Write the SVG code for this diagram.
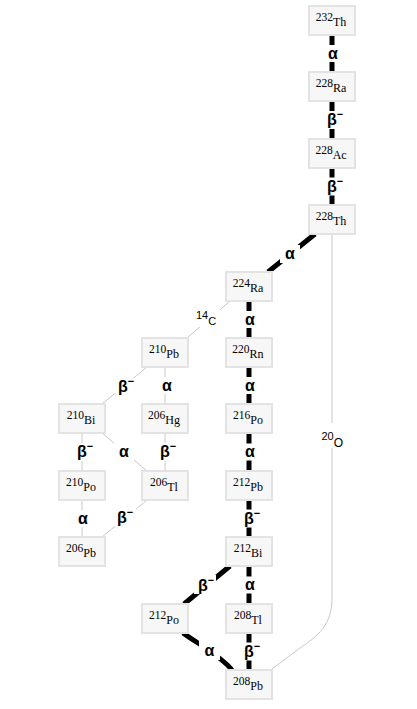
<svg xmlns="http://www.w3.org/2000/svg" width="417" height="709" viewBox="0 0 417 709">
<style>
.n rect{fill:#f7f7f7;stroke:#e3e3e3;stroke-width:2}
.n text{font-family:"Liberation Serif","Times New Roman",serif;font-size:11.5px;fill:#000}
.thick{stroke:#000;stroke-width:5;fill:none}
.thin{stroke:#c8c8c8;stroke-width:1;fill:none}
.lbl{font-family:"Liberation Sans",Arial,sans-serif;font-size:16px;font-weight:bold;fill:#000}
.iso{font-family:"Liberation Sans",Arial,sans-serif;font-size:11px;fill:#000}
.bg{fill:#fff}
</style>
<rect width="417" height="709" fill="#fff"/>
<g id="edges">
<path class="thin" d="M332,234 V598 C332,625 318,636 300,648 L272,669"/>
<path class="thin" d="M230,301 L187,338"/>
<path class="thin" d="M147,367 L102,404"/>
<path class="thin" d="M165,367 V404"/>
<path class="thin" d="M82,433 V471"/>
<path class="thin" d="M102,433 L147,471"/>
<path class="thin" d="M165,433 V471"/>
<path class="thin" d="M82,500 V537"/>
<path class="thin" d="M147,500 L102,537"/>
<path class="thick" d="M332,35 V72 M332,101 V139 M332,168 V205"/>
<path class="thick" d="M249,301 V338 M249,367 V404 M249,433 V471 M249,500 V537 M249,566 V604 M249,633 V670"/>
<path class="thick" d="M315,234 L268,272"/>
<path class="thick" d="M230,566 L184,604"/>
<path class="thick" d="M183,633 C195,642 220,655 232,670"/>
<g id="labels">
<rect class="bg" x="322" y="45" width="20" height="17"/><text class="lbl" x="333" y="58.5" text-anchor="middle">α</text>
<rect class="bg" x="324" y="111" width="22" height="18"/><text class="lbl" x="327" y="125">β<tspan dy="-7" font-size="11">−</tspan></text>
<rect class="bg" x="324" y="177.5" width="22" height="18"/><text class="lbl" x="327" y="191.5">β<tspan dy="-7" font-size="11">−</tspan></text>
<rect class="bg" x="280" y="245" width="20" height="18"/><text class="lbl" x="290" y="259" text-anchor="middle">α</text>
<rect class="bg" x="195" y="309" width="25" height="18"/><text class="iso" x="196" y="318.5" font-size="10">14<tspan dy="6.5" font-size="11">C</tspan></text>
<rect class="bg" x="320" y="423" width="26" height="25"/><text class="iso" x="321.5" y="439.5">20<tspan dy="7" font-size="12">O</tspan></text>
<rect class="bg" x="239" y="311" width="21" height="17"/><text class="lbl" x="250" y="324.5" text-anchor="middle">α</text>
<rect class="bg" x="239" y="377" width="21" height="17"/><text class="lbl" x="250" y="390.5" text-anchor="middle">α</text>
<rect class="bg" x="239" y="443.5" width="21" height="17"/><text class="lbl" x="250" y="457" text-anchor="middle">α</text>
<rect class="bg" x="241" y="509.5" width="22" height="18"/><text class="lbl" x="244" y="523.5">β<tspan dy="-7" font-size="11">−</tspan></text>
<rect class="bg" x="239" y="576.5" width="21" height="17"/><text class="lbl" x="250" y="590" text-anchor="middle">α</text>
<rect class="bg" x="241" y="642.5" width="22" height="18"/><text class="lbl" x="244" y="656.5">β<tspan dy="-7" font-size="11">−</tspan></text>
<rect class="bg" x="194" y="575" width="22" height="19"/><text class="lbl" x="198" y="590.5">β<tspan dy="-7" font-size="11">−</tspan></text>
<rect class="bg" x="199" y="641" width="21" height="19"/><text class="lbl" x="209.5" y="655.5" text-anchor="middle">α</text>
<rect class="bg" x="115" y="378" width="22" height="18"/><text class="lbl" x="118" y="392">β<tspan dy="-7" font-size="11">−</tspan></text>
<rect class="bg" x="156" y="377" width="21" height="17"/><text class="lbl" x="167" y="390.5" text-anchor="middle">α</text>
<rect class="bg" x="74" y="443" width="22" height="18"/><text class="lbl" x="77" y="457">β<tspan dy="-7" font-size="11">−</tspan></text>
<rect class="bg" x="114" y="443" width="21" height="17"/><text class="lbl" x="124" y="456.5" text-anchor="middle">α</text>
<rect class="bg" x="157" y="443" width="22" height="18"/><text class="lbl" x="160" y="457">β<tspan dy="-7" font-size="11">−</tspan></text>
<rect class="bg" x="72" y="510" width="21" height="17"/><text class="lbl" x="83" y="523.5" text-anchor="middle">α</text>
<rect class="bg" x="114" y="508" width="22" height="18"/><text class="lbl" x="117" y="522.5">β<tspan dy="-7" font-size="11">−</tspan></text>
</g>
</g>
<g id="th232" class="n"><rect x="309" y="6" width="46" height="29"/><text x="331" y="21" text-anchor="middle">232<tspan dy="5" font-size="12">Th</tspan></text></g>
<g id="ra228" class="n"><rect x="309" y="72" width="46" height="29"/><text x="331" y="87" text-anchor="middle">228<tspan dy="5" font-size="12">Ra</tspan></text></g>
<g id="ac228" class="n"><rect x="309" y="139" width="46" height="29"/><text x="331" y="154" text-anchor="middle">228<tspan dy="5" font-size="12">Ac</tspan></text></g>
<g id="th228" class="n"><rect x="309" y="205" width="46" height="29"/><text x="331" y="220" text-anchor="middle">228<tspan dy="5" font-size="12">Th</tspan></text></g>
<g id="ra224" class="n"><rect x="226" y="272" width="46" height="29"/><text x="248" y="287" text-anchor="middle">224<tspan dy="5" font-size="12">Ra</tspan></text></g>
<g id="rn220" class="n"><rect x="226" y="338" width="46" height="29"/><text x="248" y="353" text-anchor="middle">220<tspan dy="5" font-size="12">Rn</tspan></text></g>
<g id="po216" class="n"><rect x="226" y="404" width="46" height="29"/><text x="248" y="419" text-anchor="middle">216<tspan dy="5" font-size="12">Po</tspan></text></g>
<g id="pb212" class="n"><rect x="226" y="471" width="46" height="29"/><text x="248" y="486" text-anchor="middle">212<tspan dy="5" font-size="12">Pb</tspan></text></g>
<g id="bi212" class="n"><rect x="226" y="537" width="46" height="29"/><text x="248" y="552" text-anchor="middle">212<tspan dy="5" font-size="12">Bi</tspan></text></g>
<g id="tl208" class="n"><rect x="226" y="604" width="46" height="29"/><text x="248" y="619" text-anchor="middle">208<tspan dy="5" font-size="12">Tl</tspan></text></g>
<g id="pb208" class="n"><rect x="226" y="670" width="46" height="29"/><text x="248" y="685" text-anchor="middle">208<tspan dy="5" font-size="12">Pb</tspan></text></g>
<g id="pb210" class="n"><rect x="142" y="338" width="46" height="29"/><text x="164" y="353" text-anchor="middle">210<tspan dy="5" font-size="12">Pb</tspan></text></g>
<g id="hg206" class="n"><rect x="142" y="404" width="46" height="29"/><text x="164" y="419" text-anchor="middle">206<tspan dy="5" font-size="12">Hg</tspan></text></g>
<g id="tl206" class="n"><rect x="142" y="471" width="46" height="29"/><text x="164" y="486" text-anchor="middle">206<tspan dy="5" font-size="12">Tl</tspan></text></g>
<g id="po212" class="n"><rect x="142" y="604" width="46" height="29"/><text x="164" y="619" text-anchor="middle">212<tspan dy="5" font-size="12">Po</tspan></text></g>
<g id="bi210" class="n"><rect x="59" y="404" width="46" height="29"/><text x="81" y="419" text-anchor="middle">210<tspan dy="5" font-size="12">Bi</tspan></text></g>
<g id="po210" class="n"><rect x="59" y="471" width="46" height="29"/><text x="81" y="486" text-anchor="middle">210<tspan dy="5" font-size="12">Po</tspan></text></g>
<g id="pb206" class="n"><rect x="59" y="537" width="46" height="29"/><text x="81" y="552" text-anchor="middle">206<tspan dy="5" font-size="12">Pb</tspan></text></g>
</svg>
